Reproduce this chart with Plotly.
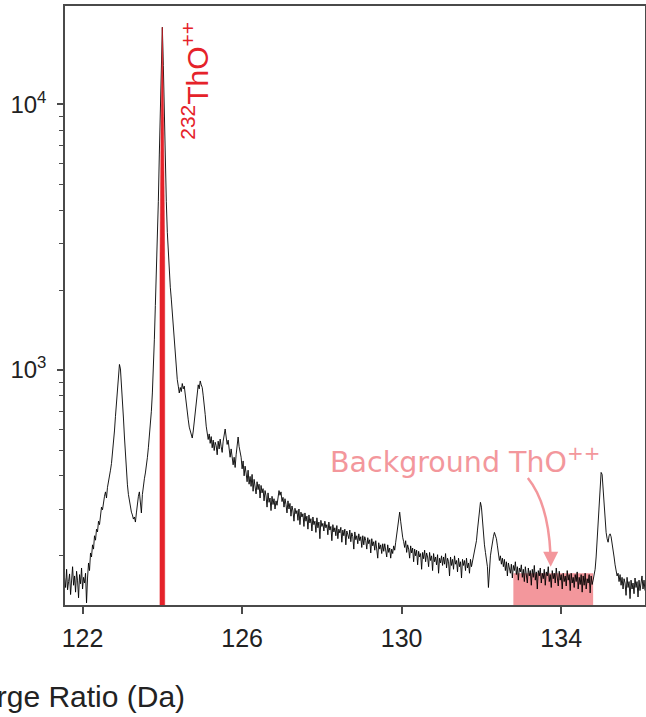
import plotly.graph_objects as go

# ---------------- data ----------------
mz_start = 121.55      # first sample (Da)
mz_step = 0.025        # sampling step (Da)
counts = [
    165, 152, 178, 149, 160, 171, 143, 158, 182, 155, 168, 146, 175, 161, 139, 170, 157, 180, 150, 166,
    158, 172, 133, 165, 188, 176, 205, 198, 220, 212, 238, 229, 252, 246, 270, 262, 290, 305, 298, 322,
    335, 348, 330, 362, 378, 395, 420, 445, 480, 530, 590, 670, 760, 870, 980, 1050, 1010, 900, 780, 660,
    560, 480, 410, 370, 340, 318, 305, 292, 285, 275, 280, 268, 290, 315, 335, 348, 320, 290, 340, 372,
    390, 410, 432, 468, 510, 560, 620, 700, 820, 1000, 1300, 1750, 2300, 3200, 4300, 6500, 9500, 14000, 19500, 14000,
    8800, 6000, 4300, 3300, 2700, 2300, 2050, 1850, 1650, 1450, 1250, 1100, 990, 920, 870, 820, 860, 830, 890, 850,
    870, 800, 760, 700, 650, 610, 590, 565, 555, 590, 640, 700, 780, 850, 880, 850, 910, 880, 860, 800,
    750, 680, 615, 570, 548, 575, 530, 562, 510, 545, 498, 535, 520, 480, 540, 505, 550, 515, 490, 540,
    575, 600, 560, 525, 545, 495, 470, 505, 455, 440, 470, 430, 480, 525, 560, 515, 495, 470, 425, 455,
    400, 435, 410, 380, 420, 372, 398, 365, 405, 350, 388, 370, 342, 380, 355, 372, 330, 368, 345, 358,
    322, 352, 336, 305, 345, 318, 330, 296, 335, 312, 328, 300, 322, 310, 340, 352, 338, 348, 320, 332,
    305, 328, 312, 290, 322, 300, 315, 282, 308, 295, 270, 302, 288, 296, 272, 300, 262, 292, 280, 288,
    258, 290, 270, 282, 252, 285, 266, 276, 248, 280, 262, 270, 245, 278, 255, 268, 232, 272, 258, 265,
    248, 270, 255, 262, 240, 268, 250, 258, 228, 262, 246, 255, 238, 260, 232, 252, 244, 256, 225, 250,
    238, 252, 220, 248, 240, 232, 250, 226, 244, 236, 212, 246, 230, 238, 222, 242, 228, 236, 215, 238,
    220, 236, 228, 212, 234, 222, 230, 205, 232, 218, 226, 210, 228, 215, 196, 224, 212, 220, 204, 222,
    208, 222, 212, 198, 220, 206, 214, 196, 212, 204, 218, 210, 225, 240, 258, 275, 292, 270, 248, 235,
    226, 215, 228, 206, 220, 212, 196, 218, 205, 214, 190, 212, 200, 210, 185, 208, 198, 204, 178, 206,
    195, 210, 190, 205, 198, 182, 206, 192, 200, 176, 204, 190, 198, 185, 202, 172, 196, 188, 200, 184,
    198, 186, 204, 180, 196, 190, 168, 198, 184, 194, 178, 200, 186, 192, 174, 196, 182, 190, 165, 194,
    184, 192, 176, 196, 180, 188, 172, 194, 182, 190, 198, 205, 215, 228, 250, 270, 295, 318, 305, 265,
    238, 220, 206, 195, 182, 152, 188, 200, 212, 228, 236, 245, 240, 232, 218, 205, 192, 200, 186, 196,
    182, 194, 176, 190, 168, 188, 180, 172, 186, 165, 184, 176, 190, 170, 182, 162, 180, 174, 185, 166,
    178, 160, 182, 172, 158, 180, 168, 176, 155, 178, 166, 184, 162, 174, 150, 176, 168, 180, 158, 172,
    164, 178, 155, 174, 168, 182, 160, 170, 152, 176, 164, 172, 158, 180, 166, 154, 175, 162, 170, 150,
    172, 160, 168, 154, 176, 162, 170, 148, 172, 158, 166, 152, 170, 160, 174, 150, 166, 156, 170, 146,
    168, 155, 172, 150, 164, 158, 170, 145, 168, 156, 162, 170, 178, 198, 230, 280, 340, 390, 412, 405,
    350, 300, 265, 245, 232, 225, 238, 242, 236, 225, 212, 198, 185, 176, 168, 172, 160, 170, 155, 166,
    150, 164, 158, 142, 166, 152, 160, 138, 162, 150, 158, 144, 165, 152, 160, 140, 162, 148, 156, 168,
    150, 162, 148,
]

# highlighted 232ThO++ peak (red)
peak_x = [123.94, 123.94, 123.97, 124.0, 124.03, 124.06, 124.06]
peak_y = [100, 2500, 9000, 19500, 9000, 2500, 100]

# background window (pink)
bg_x = [132.8, 132.8, 134.8, 134.8, 132.8]
bg_y = [100, 172, 172, 100, 100]

x_ticks = [122, 126, 130, 134]
y_ticks = [1000, 10000]
y_ticktext = ["10<sup>3</sup>", "10<sup>4</sup>"]
y_minor = [200, 300, 400, 500, 600, 700, 800, 900,
           2000, 3000, 4000, 5000, 6000, 7000, 8000, 9000]

RED = "#e5222a"
PINK = "#f3979c"
AXC = "#4a4a4a"
FONT = "Arial, Liberation Sans, sans-serif"

fig = go.Figure()

fig.add_trace(go.Scatter(x=bg_x, y=bg_y, mode="lines", fill="toself",
                         fillcolor=PINK, line=dict(width=0, color=PINK),
                         hoverinfo="skip", showlegend=False))

fig.add_trace(go.Scatter(x0=mz_start, dx=mz_step, y=counts, mode="lines",
                         line=dict(color="black", width=0.9),
                         showlegend=False))

fig.add_trace(go.Scatter(x=peak_x, y=peak_y, mode="lines", fill="toself",
                         fillcolor=RED, line=dict(width=0.5, color=RED),
                         hoverinfo="skip", showlegend=False))

fig.update_layout(
    width=646, height=717,
    margin=dict(l=65, r=1, t=6, b=112, autoexpand=False),
    paper_bgcolor="white", plot_bgcolor="white",
    font=dict(family=FONT, color="#222222"),
    showlegend=False,
    xaxis=dict(range=[121.56, 136.1], tickvals=x_ticks,
               ticks="outside", ticklen=7, tickwidth=1.5, tickcolor=AXC,
               showline=True, linecolor=AXC, linewidth=1.5, mirror=True,
               showgrid=False, zeroline=False, ticklabelstandoff=3,
               tickfont=dict(size=25, family=FONT, color="#222222")),
    yaxis=dict(type="log", range=[2.116, 4.37], tickvals=y_ticks,
               ticktext=y_ticktext,
               ticks="outside", ticklen=6, tickwidth=1.5, tickcolor=AXC,
               showline=True, linecolor=AXC, linewidth=1.5, mirror=True,
               showgrid=False, zeroline=False, ticklabelstandoff=6,
               tickfont=dict(size=24, family=FONT, color="#222222"),
               minor=dict(tickvals=y_minor, ticks="outside", ticklen=4,
                          tickwidth=1.2, tickcolor=AXC, showgrid=False)),
)

# x-axis title (partly outside the visible area, as in the cropped original)
fig.add_annotation(xref="paper", yref="paper", x=0.211, y=-0.152,
                   xanchor="right", yanchor="middle", showarrow=False,
                   text="Mass-to-Charge Ratio (Da)",
                   font=dict(size=30, family=FONT, color="#222222"))

# peak label
fig.add_annotation(xref="paper", yref="paper", x=0.224, y=0.875,
                   xanchor="center", yanchor="middle", showarrow=False,
                   textangle=-90, text="<sup>232</sup>ThO<sup>++</sup>",
                   font=dict(size=30, family=FONT, color=RED))

# background label
fig.add_annotation(xref="paper", yref="paper", x=0.4534, y=0.242,
                   xanchor="left", yanchor="middle", showarrow=False,
                   text="Background ThO<sup>++</sup>",
                   font=dict(size=28.5, family="DejaVu Sans, sans-serif", color=PINK))

# curved arrow
fig.add_shape(type="path", xref="paper", yref="paper",
              path="M 0.798,0.212 Q 0.833,0.170 0.837,0.085",
              line=dict(color=PINK, width=2.5))
fig.add_annotation(xref="paper", yref="paper", x=0.8374, y=0.0639,
                   ax=0, ay=-16, showarrow=True, arrowhead=2,
                   arrowsize=1.2, arrowwidth=2.5, arrowcolor=PINK, text="")

fig.write_html(
    "out.html",
    config={"displayModeBar": False},
    post_script="document.body.style.margin='0px';document.body.style.overflow='hidden';",
)
